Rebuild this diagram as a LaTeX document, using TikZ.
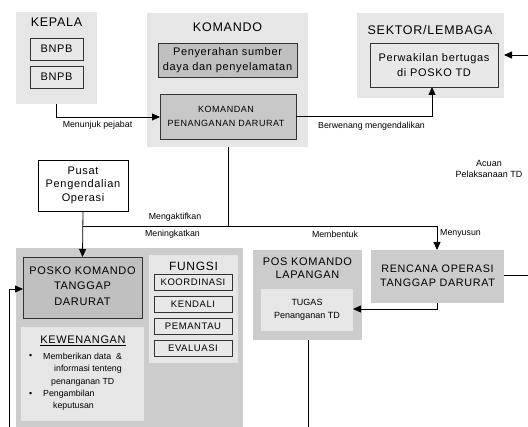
\documentclass[tikz,border=0pt]{standalone}
\usepackage{fontspec}
\setmainfont{Liberation Sans}
\newfontfamily\spc[LetterSpace=6]{Liberation Sans}
\usetikzlibrary{arrows.meta}
\definecolor{panelA}{HTML}{E6E6E6}
\definecolor{panelB}{HTML}{CCCCCC}
\definecolor{boxdark}{HTML}{C0C0C0}
\definecolor{boxmid}{HTML}{C8C8C8}
\definecolor{boxlight}{HTML}{E8E8E8}
\definecolor{edge}{HTML}{333333}
\begin{document}
\begin{tikzpicture}[x=1pt,y=-1pt,
  panel/.style={fill=#1, draw=none, inner sep=0pt, outer sep=0pt},
  bx/.style={fill=#1, draw=edge, line width=0.8pt, inner sep=0pt, outer sep=0pt},
  wbox/.style={fill=white, draw=black, line width=0.8pt, inner sep=0pt, outer sep=0pt},
  conn/.style={draw=black, line width=0.8pt},
  arr/.style={conn, -{Triangle[length=8pt,width=7pt]}},
  lbl/.style={inner sep=0pt, font=\fontsize{8.8}{10}\selectfont},
  head/.style={inner sep=0pt, font=\spc\fontsize{12.5}{14}\selectfont},
  txt/.style={inner sep=0pt, align=center},
]
\useasboundingbox (0,0) rectangle (528,427);
\fill[white] (0,0) rectangle (528,427);

% ---------- top panels ----------
\node[panel=panelA, minimum width=81pt, minimum height=92pt] (kepala) at (56.5,58) {};
\node[head] (kepalaT) at (56.5,22) {KEPALA};
\node[bx=boxlight, minimum width=53pt, minimum height=22pt, font=\spc\fontsize{11}{13}\selectfont] (bnpb1) at (56.5,49) {BNPB};
\node[bx=boxlight, minimum width=53pt, minimum height=22pt, font=\spc\fontsize{11}{13}\selectfont] (bnpb2) at (56.5,77) {BNPB};

\node[panel=panelA, minimum width=161pt, minimum height=134pt] (komando) at (227.5,80) {};
\node[head] (komandoT) at (227.5,27) {KOMANDO};
\node[bx=boxdark, minimum width=139pt, minimum height=34pt] (penyerahan) at (227.5,60) {};
\node[txt, font=\spc\fontsize{11}{15}\selectfont] (penyerahanT) at (227.5,60.5) {Penyerahan sumber\\daya dan penyelamatan};
\node[bx=boxmid, minimum width=136pt, minimum height=45pt] (komandan) at (228,116.5) {};
\node[txt, font=\spc\fontsize{9}{14}\selectfont] (komandanT) at (226,116.5) {KOMANDAN\\PENANGANAN DARURAT};

\node[panel=panelA, minimum width=147pt, minimum height=85pt] (sektor) at (430.5,55.5) {};
\node[head] (sektorT) at (430,30) {SEKTOR/LEMBAGA};
\node[bx=boxlight, minimum width=128pt, minimum height=44pt] (perwakilan) at (434,65) {};
\node[txt, font=\spc\fontsize{11}{15}\selectfont] (perwakilanT) at (434,65) {Perwakilan bertugas\\di POSKO TD};

\coordinate (rightIn) at (528,55);

% ---------- middle ----------
\node[wbox, minimum width=90pt, minimum height=51pt] (pusat) at (83,185.5) {};
\node[txt, font=\spc\fontsize{11}{13.5}\selectfont] (pusatT) at (83,185) {Pusat\\Pengendalian\\Operasi};

\node[txt, font=\fontsize{9}{11}\selectfont] (acuan) at (489,168.5) {Acuan\\Pelaksanaan TD};

% ---------- bottom-left big panel ----------
\node[panel=panelB, minimum width=227pt, minimum height=179pt] (big) at (129.5,337.5) {};
\node[bx=boxdark, minimum width=119pt, minimum height=61pt] (posko) at (82.5,287.5) {};
\node[txt, font=\spc\fontsize{11}{15.5}\selectfont] (poskoT) at (82.5,286) {POSKO KOMANDO\\TANGGAP\\DARURAT};

\node[panel=panelA, minimum width=89pt, minimum height=108pt] (fungsi) at (193.5,309) {};
\node[head, font=\spc\fontsize{12}{14}\selectfont] (fungsiT) at (193.5,266) {FUNGSI};
\tikzset{fbox/.style={bx=boxlight, minimum width=78pt, minimum height=16pt, font=\spc\fontsize{9.5}{11}\selectfont}}
\node[fbox] (koord) at (193,282.5) {KOORDINASI};
\node[fbox] (kendali) at (193,304) {KENDALI};
\node[fbox] (pemantau) at (193,326) {PEMANTAU};
\node[fbox] (evaluasi) at (193,348) {EVALUASI};

\node[panel=panelA, minimum width=123pt, minimum height=94pt] (kewenangan) at (82.5,374) {};
\node[inner sep=0pt, font=\spc\fontsize{11}{13}\selectfont] (kewT) at (83,341) {\underline{KEWENANGAN}};
\tikzset{kw/.style={inner sep=0pt, anchor=west, font=\fontsize{8.8}{10}\selectfont}}
\node[kw] (b1) at (29,356) {\textbullet};
\node[kw] (k1) at (43,356) {Memberikan data\ \ \&};
\node[kw] (k2) at (54,369) {informasi tenteng};
\node[kw] (k3) at (51,382) {penanganan TD};
\node[kw] (b2) at (29,394) {\textbullet};
\node[kw] (k4) at (43,394) {Pengambilan};
\node[kw] (k5) at (53,406) {keputusan};

% ---------- bottom-middle / right ----------
\node[panel=panelB, minimum width=109pt, minimum height=90pt] (poslap) at (307.5,295) {};
\node[txt, font=\spc\fontsize{11}{13}\selectfont] (poslapT) at (307.5,268.5) {POS KOMANDO\\LAPANGAN};
\node[panel=panelA, minimum width=92pt, minimum height=42pt] (tugas) at (307,310) {};
\node[txt, font=\fontsize{9}{13}\selectfont] (tugasT) at (307,309.5) {TUGAS\\Penanganan TD};

\node[panel=panelB, minimum width=133pt, minimum height=53pt] (rencana) at (437.5,276.5) {};
\node[txt, font=\spc\fontsize{10.8}{14}\selectfont] (rencanaT) at (437.5,276) {RENCANA OPERASI\\TANGGAP DARURAT};

% ---------- coordinates for free ends ----------
\coordinate (junc) at (228,226);
\coordinate (hl) at (83,226);
\coordinate (hr) at (437,226);
\coordinate (rightOut) at (528,275);
\coordinate (poslapEnd) at (308,427);
\coordinate (leftStart) at (9,427);

% ---------- connectors ----------
\draw[arr] (kepala.south) -- (kepala.south |- 0,117) -- (komandan.west |- 0,117);
\draw[arr] (komandan.east |- 0,116) -- (432,116) -- (perwakilan.south -| 432,0);
\draw[arr] (rightIn) -- (sektor.east |- rightIn);
\draw[conn] (komando.south -| junc) -- (junc);
\draw[conn] (hl) -- (hr);
\draw[arr] (pusat.south) -- (posko.north);
\draw[arr] (hr) -- (rencana.north -| hr);
\draw[arr] (rencana.south -| 437,0) -- (437,309) -- (tugas.east |- 0,309);
\draw[conn] (rencana.east |- rightOut) -- (rightOut);
\draw[conn] (poslap.south -| poslapEnd) -- (poslapEnd);
\draw[arr] (leftStart) -- (9,289) -- (posko.west |- 0,289);

% ---------- connector labels ----------
\node[lbl] (l1) at (97.5,125.5) {Menunjuk pejabat};
\node[lbl] (l2) at (371.5,126.5) {Berwenang mengendalikan};
\node[lbl] (l3) at (175,217) {Mengaktifkan};
\node[lbl] (l4) at (172.5,234.5) {Meningkatkan};
\node[lbl] (l5) at (335,234.5) {Membentuk};
\node[lbl, anchor=west] (l6) at (440,233.5) {Menyusun};
\end{tikzpicture}
\end{document}
